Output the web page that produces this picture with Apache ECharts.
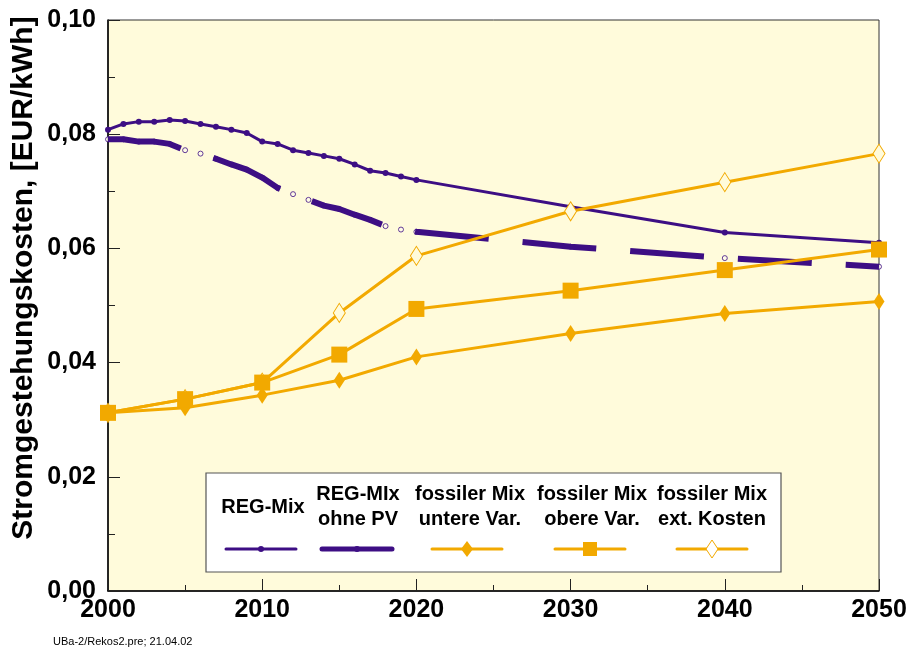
<!DOCTYPE html>
<html><head><meta charset="utf-8">
<script src="https://cdn.jsdelivr.net/npm/echarts@6/dist/echarts.min.js"></script>
<style>html,body{margin:0;padding:0;background:#fff}#c{width:914px;height:650px}</style>
</head><body><div id="c"></div>
<script>
// ---- data ----
const regYears = [2000,2001,2002,2003,2004,2005,2006,2007,2008,2009,2010,2011,2012,2013,2014,2015,2016,2017,2018,2019,2020,2030,2040,2050];
const regMix = [0.0808,0.0818,0.0822,0.0822,0.0825,0.0823,0.0818,0.0813,0.0808,0.0802,0.0787,0.0783,0.0772,0.0767,0.0762,0.0757,0.0747,0.0736,0.0732,0.0726,0.0720,0.0673,0.0628,0.0610];
const regOhnePV = [0.0791,0.0791,0.0787,0.0787,0.0783,0.0772,0.0766,0.0757,0.0747,0.0738,0.0724,0.0706,0.0695,0.0685,0.0675,0.0669,0.0659,0.0650,0.0639,0.0633,0.0629,0.0603,0.0583,0.0568];
const fossYears = [2000,2005,2010,2015,2020,2030,2040,2050];
const fossUntere = [0.0312,0.0321,0.0343,0.0369,0.0410,0.0451,0.0486,0.0507];
const fossObere = [0.0312,0.0336,0.0365,0.0414,0.0494,0.0526,0.0562,0.0598];
const fossExt = [0.0312,0.0336,0.0365,0.0487,0.0587,0.0665,0.0716,0.0766];
const legendNames = [['REG-Mix'],['REG-MIx','ohne PV'],['fossiler Mix','untere Var.'],['fossiler Mix','obere Var.'],['fossiler Mix','ext. Kosten']];
const yTitle = 'Stromgestehungskosten, [EUR/kWh]';
const footnote = 'UBa-2/Rekos2.pre; 21.04.02';

// ---- chart ----
const PURPLE = '#3D0E84', ORANGE = '#F2A900', BG = '#FFFBDB';
const FONT = '"Liberation Sans", Arial, sans-serif';
const pair = (xs, ys) => xs.map((x, i) => [x, ys[i]]);
const chart = echarts.init(document.getElementById('c'), null, {renderer: 'canvas'});

// legend layout
const legCx = [263, 358, 470, 592, 712];
const legLineY = 549;
const legendGraphics = [];
legendGraphics.push({type:'rect', shape:{x:206, y:473, width:575, height:99}, style:{fill:'#fff', stroke:'#555', lineWidth:1.2}, z:100});
legendNames.forEach((lines, i) => {
  const ys = lines.length === 1 ? [507] : [494, 519];
  lines.forEach((t, k) => legendGraphics.push({type:'text', x:legCx[i], y:ys[k], z:101,
    style:{text:t, fill:'#000', font:'bold 20px ' + FONT, textAlign:'center', textVerticalAlign:'middle'}}));
});
const sampleX = [261, 357, 467, 590, 712];
const lw = [3, 5, 3, 3, 3];
const lc = [PURPLE, PURPLE, ORANGE, ORANGE, ORANGE];
sampleX.forEach((cx, i) => {
  legendGraphics.push({type:'line', shape:{x1:cx-35, y1:legLineY, x2:cx+35, y2:legLineY}, style:{stroke:lc[i], lineWidth:lw[i], lineCap:'round'}, z:101});
});
legendGraphics.push({type:'circle', shape:{cx:261, cy:legLineY, r:3}, style:{fill:PURPLE}, z:102});
legendGraphics.push({type:'circle', shape:{cx:357, cy:legLineY, r:3}, style:{fill:PURPLE}, z:102});
legendGraphics.push({type:'polygon', shape:{points:[[467,legLineY-8],[473,legLineY],[467,legLineY+8],[461,legLineY]]}, style:{fill:ORANGE}, z:102});
legendGraphics.push({type:'rect', shape:{x:583, y:legLineY-7, width:14, height:14}, style:{fill:ORANGE}, z:102});
legendGraphics.push({type:'polygon', shape:{points:[[712,legLineY-9],[718,legLineY],[712,legLineY+9],[706,legLineY]]}, style:{fill:'#fff', stroke:ORANGE, lineWidth:1}, z:102});

const tickStyle = {color:'#222', width:1};
const option = {
  animation: false,
  backgroundColor: '#fff',
  grid: {left:108, right:35, top:20, bottom:59, show:true, backgroundColor:BG, borderColor:'#333', borderWidth:1},
  xAxis: [{
    type:'value', min:2000, max:2050, interval:10, position:'bottom',
    axisLine:{lineStyle:{color:'#000', width:1.5}},
    axisTick:{inside:true, length:12, lineStyle:tickStyle},
    splitLine:{show:false},
    axisLabel:{fontFamily:FONT, fontWeight:'bold', fontSize:25, color:'#000', margin:7, formatter: v => String(v)}
  }, {
    type:'value', min:2000, max:2050, interval:5, position:'bottom', offset:0,
    axisLine:{show:false}, axisLabel:{show:false}, splitLine:{show:false},
    axisTick:{show:true, inside:true, length:6, lineStyle:tickStyle}
  }],
  yAxis: [{
    type:'value', min:0, max:0.1, interval:0.02, position:'left',
    axisLine:{show:true, lineStyle:{color:'#000', width:1.5}},
    axisTick:{show:true, inside:true, length:12, lineStyle:tickStyle},
    splitLine:{show:false},
    axisLabel:{fontFamily:FONT, fontWeight:'bold', fontSize:25, color:'#000', margin:12, formatter: v => v.toFixed(2).replace('.', ',')}
  }, {
    type:'value', min:0, max:0.1, interval:0.01, position:'left', offset:0,
    axisLine:{show:false}, axisLabel:{show:false}, splitLine:{show:false},
    axisTick:{show:true, inside:true, length:7, lineStyle:tickStyle}
  }],
  series: [
    {name:'REG-MIx ohne PV markers', type:'scatter', data:pair(regYears, regOhnePV), symbol:'circle', symbolSize:5,
     itemStyle:{color:'#FFFBEA', borderColor:PURPLE, borderWidth:1}, z:1, silent:true},
    {name:'REG-MIx ohne PV', type:'line', data:pair(regYears, regOhnePV), symbol:'none', z:2,
     lineStyle:{color:PURPLE, width:6, type:[74, 34], cap:'butt'}},
    {name:'REG-Mix', type:'line', data:pair(regYears, regMix), symbol:'circle', symbolSize:6, z:3,
     itemStyle:{color:PURPLE}, lineStyle:{color:PURPLE, width:3}},
    {name:'fossiler Mix ext. Kosten', type:'line', data:pair(fossYears, fossExt), symbol:'diamond', symbolSize:[12,19], z:4,
     itemStyle:{color:BG, borderColor:ORANGE, borderWidth:1}, lineStyle:{color:ORANGE, width:3}},
    {name:'fossiler Mix untere Var.', type:'line', data:pair(fossYears, fossUntere), symbol:'diamond', symbolSize:[11,17], z:5,
     itemStyle:{color:ORANGE}, lineStyle:{color:ORANGE, width:3}},
    {name:'fossiler Mix obere Var.', type:'line', data:pair(fossYears, fossObere), symbol:'rect', symbolSize:16, z:6,
     itemStyle:{color:ORANGE}, lineStyle:{color:ORANGE, width:3}}
  ],
  graphic: [
    {type:'text', x:24, y:278, rotation:Math.PI/2, z:50,
     style:{text:yTitle, fill:'#000', font:'bold 30px ' + FONT, textAlign:'center', textVerticalAlign:'middle'}},
    {type:'text', x:53, y:642, z:50,
     style:{text:footnote, fill:'#000', font:'11px ' + FONT, textAlign:'left', textVerticalAlign:'middle'}}
  ].concat(legendGraphics)
};
chart.setOption(option);
</script>
</body></html>
